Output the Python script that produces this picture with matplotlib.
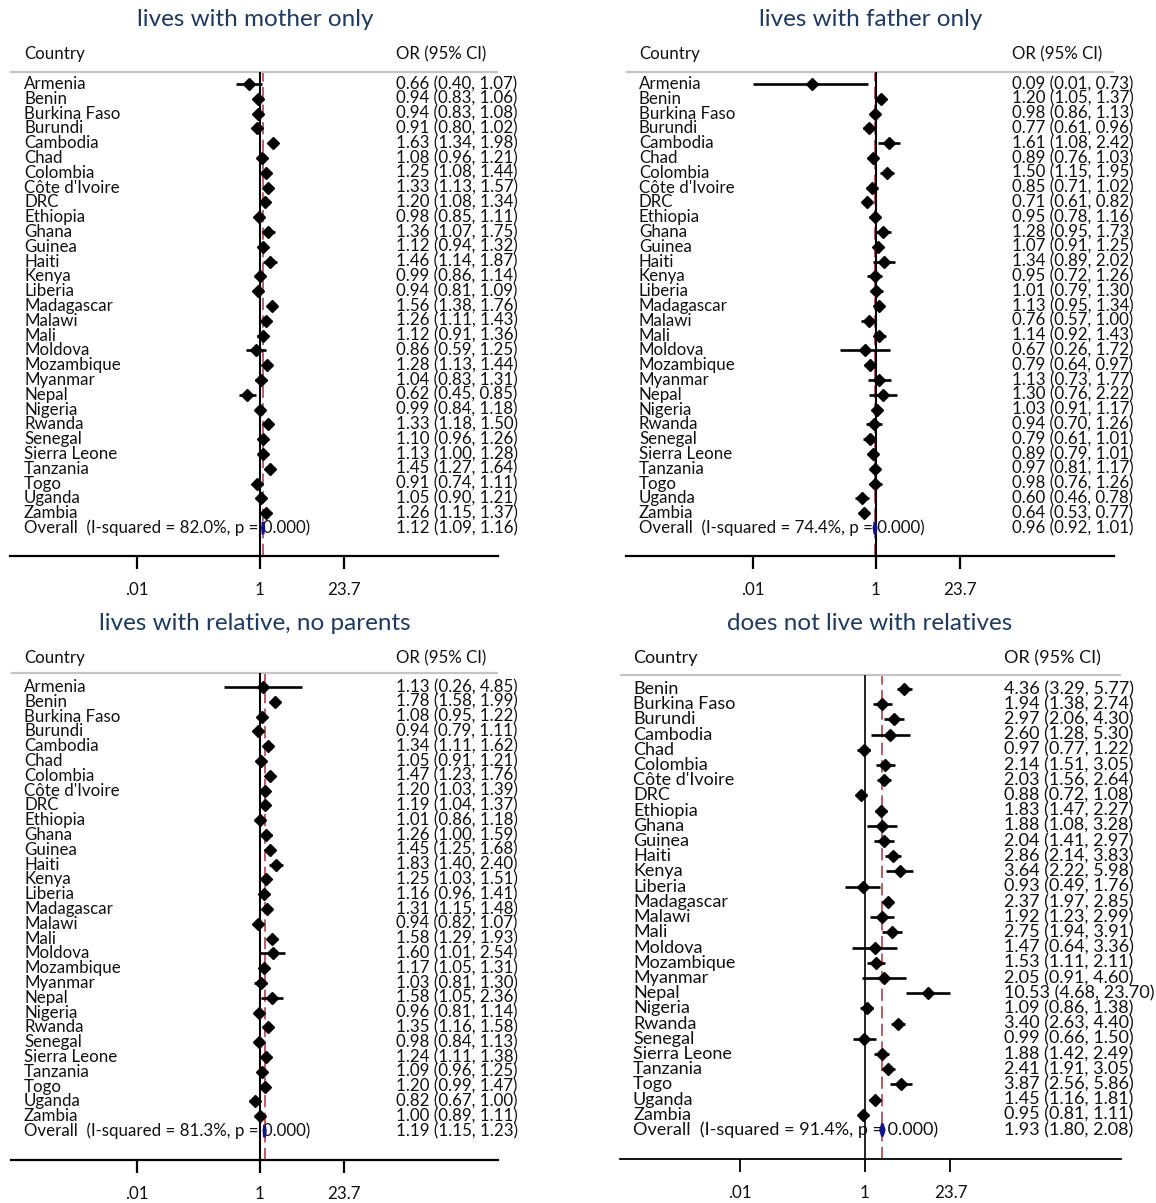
import matplotlib
matplotlib.use("Agg")
import matplotlib.pyplot as plt
from matplotlib.transforms import blended_transform_factory
import numpy as np

plt.rcParams['font.family'] = ['Lato', 'DejaVu Sans']

# ---- data -------------------------------------------------------------
countries_30 = ["Armenia", "Benin", "Burkina Faso", "Burundi", "Cambodia", "Chad",
                "Colombia", "Côte d'Ivoire", "DRC", "Ethiopia", "Ghana", "Guinea",
                "Haiti", "Kenya", "Liberia", "Madagascar", "Malawi", "Mali",
                "Moldova", "Mozambique", "Myanmar", "Nepal", "Nigeria", "Rwanda",
                "Senegal", "Sierra Leone", "Tanzania", "Togo", "Uganda", "Zambia"]
countries_29 = countries_30[1:]

mother_or = [0.66, 0.94, 0.94, 0.91, 1.63, 1.08, 1.25, 1.33, 1.20, 0.98, 1.36, 1.12, 1.46, 0.99, 0.94,
             1.56, 1.26, 1.12, 0.86, 1.28, 1.04, 0.62, 0.99, 1.33, 1.10, 1.13, 1.45, 0.91, 1.05, 1.26]
mother_lo = [0.40, 0.83, 0.83, 0.80, 1.34, 0.96, 1.08, 1.13, 1.08, 0.85, 1.07, 0.94, 1.14, 0.86, 0.81,
             1.38, 1.11, 0.91, 0.59, 1.13, 0.83, 0.45, 0.84, 1.18, 0.96, 1.00, 1.27, 0.74, 0.90, 1.15]
mother_hi = [1.07, 1.06, 1.08, 1.02, 1.98, 1.21, 1.44, 1.57, 1.34, 1.11, 1.75, 1.32, 1.87, 1.14, 1.09,
             1.76, 1.43, 1.36, 1.25, 1.44, 1.31, 0.85, 1.18, 1.50, 1.26, 1.28, 1.64, 1.11, 1.21, 1.37]
mother_overall = (1.12, 1.09, 1.16)
mother_i2 = 82.0

father_or = [0.09, 1.20, 0.98, 0.77, 1.61, 0.89, 1.50, 0.85, 0.71, 0.95, 1.28, 1.07, 1.34, 0.95, 1.01,
             1.13, 0.76, 1.14, 0.67, 0.79, 1.13, 1.30, 1.03, 0.94, 0.79, 0.89, 0.97, 0.98, 0.60, 0.64]
father_lo = [0.01, 1.05, 0.86, 0.61, 1.08, 0.76, 1.15, 0.71, 0.61, 0.78, 0.95, 0.91, 0.89, 0.72, 0.79,
             0.95, 0.57, 0.92, 0.26, 0.64, 0.73, 0.76, 0.91, 0.70, 0.61, 0.79, 0.81, 0.76, 0.46, 0.53]
father_hi = [0.73, 1.37, 1.13, 0.96, 2.42, 1.03, 1.95, 1.02, 0.82, 1.16, 1.73, 1.25, 2.02, 1.26, 1.30,
             1.34, 1.00, 1.43, 1.72, 0.97, 1.77, 2.22, 1.17, 1.26, 1.01, 1.01, 1.17, 1.26, 0.78, 0.77]
father_overall = (0.96, 0.92, 1.01)
father_i2 = 74.4

relative_or = [1.13, 1.78, 1.08, 0.94, 1.34, 1.05, 1.47, 1.20, 1.19, 1.01, 1.26, 1.45, 1.83, 1.25, 1.16,
               1.31, 0.94, 1.58, 1.60, 1.17, 1.03, 1.58, 0.96, 1.35, 0.98, 1.24, 1.09, 1.20, 0.82, 1.00]
relative_lo = [0.26, 1.58, 0.95, 0.79, 1.11, 0.91, 1.23, 1.03, 1.04, 0.86, 1.00, 1.25, 1.40, 1.03, 0.96,
               1.15, 0.82, 1.29, 1.01, 1.05, 0.81, 1.05, 0.81, 1.16, 0.84, 1.11, 0.96, 0.99, 0.67, 0.89]
relative_hi = [4.85, 1.99, 1.22, 1.11, 1.62, 1.21, 1.76, 1.39, 1.37, 1.18, 1.59, 1.68, 2.40, 1.51, 1.41,
               1.48, 1.07, 1.93, 2.54, 1.31, 1.30, 2.36, 1.14, 1.58, 1.13, 1.38, 1.25, 1.47, 1.00, 1.11]
relative_overall = (1.19, 1.15, 1.23)
relative_i2 = 81.3

norel_or = [4.36, 1.94, 2.97, 2.60, 0.97, 2.14, 2.03, 0.88, 1.83, 1.88, 2.04, 2.86, 3.64, 0.93, 2.37,
            1.92, 2.75, 1.47, 1.53, 2.05, 10.53, 1.09, 3.40, 0.99, 1.88, 2.41, 3.87, 1.45, 0.95]
norel_lo = [3.29, 1.38, 2.06, 1.28, 0.77, 1.51, 1.56, 0.72, 1.47, 1.08, 1.41, 2.14, 2.22, 0.49, 1.97,
            1.23, 1.94, 0.64, 1.11, 0.91, 4.68, 0.86, 2.63, 0.66, 1.42, 1.91, 2.56, 1.16, 0.81]
norel_hi = [5.77, 2.74, 4.30, 5.30, 1.22, 3.05, 2.64, 1.08, 2.27, 3.28, 2.97, 3.83, 5.98, 1.76, 2.85,
            2.99, 3.91, 3.36, 2.11, 4.60, 23.70, 1.38, 4.40, 1.50, 2.49, 3.05, 5.86, 1.81, 1.11]
norel_overall = (1.93, 1.80, 2.08)
norel_i2 = 91.4

tick_values = [0.01, 1, 23.7]
tick_labels = [".01", "1", "23.7"]

# ---- figure -----------------------------------------------------------
W, H = 1156, 1203
fig = plt.figure(figsize=(W / 100, H / 100), dpi=100)
fig.patch.set_facecolor("white")

TITLE_COLOR = "#1f3a5f"
TEXT_COLOR = "#111111"
NAVY = "#14148a"
RED = "#a8323c"


def fx(px):
    return px / W


def fy(py):
    return 1 - py / H


def forest(title, names, est, lo, hi, overall, i2, g):
    n = len(names)
    s = g["scale"]
    fs = 12.2 * s
    ax = fig.add_axes([fx(g["left"]), fy(g["axis_y"]),
                       (g["right"] - g["left"]) / W, (g["axis_y"] - g["grey_y"]) / H])
    ax.set_xscale("log")
    dec = g["decade"]
    ax.set_xlim(10 ** ((g["left"] - g["one"]) / dec), 10 ** ((g["right"] - g["one"]) / dec))
    # rows are evenly spaced from the first study down to the pooled line
    step = (g["last"] - g["row0"]) / n
    ax.set_ylim((g["axis_y"] - g["row0"]) / step, (g["grey_y"] - g["row0"]) / step)
    ax.set_facecolor("none")

    for sp in ("left", "right", "top"):
        ax.spines[sp].set_visible(False)
    ax.spines["bottom"].set_linewidth(g["lw"])
    ax.set_yticks([])
    ax.set_xticks(tick_values)
    ax.set_xticklabels(tick_labels)
    ax.xaxis.set_minor_locator(matplotlib.ticker.NullLocator())
    ax.tick_params(axis="x", length=9.5, width=g["lw"], pad=9, labelsize=12.2, colors="black")
    for lab in ax.get_xticklabels():
        lab.set_color(TEXT_COLOR)

    # header rule
    ax.plot([0, 1], [1, 1], transform=ax.transAxes, color="#c4c4c4", lw=1.6,
            clip_on=False, solid_capstyle="butt")
    # null line and pooled estimate line
    ax.axvline(1, color="black", lw=g["lw"] - 0.1, zorder=2)
    ax.axvline(overall[0], color=RED, lw=1.1, ls=(0, (8, 3.5)), zorder=1)

    rows = np.arange(n)
    ax.hlines(rows, lo, hi, color="black", lw=1.9, zorder=3)
    ax.plot(est, rows, ls="none", marker="D", ms=6.2, color="black", zorder=4)

    # pooled diamond
    e, l, h = overall
    ax.fill([l, e, h, e], [n, n - 0.42, n, n + 0.42], facecolor=NAVY, edgecolor=NAVY,
            lw=1.8, zorder=5)

    tr = blended_transform_factory(fig.transFigure, ax.transData)
    for i, name in enumerate(names):
        ax.text(fx(g["cx"]), i, name, transform=tr, ha="left", va="center",
                fontsize=fs, color=TEXT_COLOR)
        ax.text(fx(g["ox"]), i, f"{est[i]:.2f} ({lo[i]:.2f}, {hi[i]:.2f})", transform=tr,
                ha="left", va="center", fontsize=fs, color=TEXT_COLOR)
    ax.text(fx(g["cx"]), n, f"Overall  (I-squared = {i2:.1f}%, p = 0.000)", transform=tr,
            ha="left", va="center", fontsize=fs, color=TEXT_COLOR, zorder=4)
    ax.text(fx(g["ox"]), n, f"{e:.2f} ({l:.2f}, {h:.2f})", transform=tr,
            ha="left", va="center", fontsize=fs, color=TEXT_COLOR)

    fig.text(fx(g["cx"]), fy(g["head_y"]), "Country", ha="left", va="center",
             fontsize=fs, color=TEXT_COLOR)
    fig.text(fx(g["ox"]), fy(g["head_y"]), "OR (95% CI)", ha="left", va="center",
             fontsize=fs, color=TEXT_COLOR)
    fig.text(fx(g["title_x"]), fy(g["title_y"]), title, ha="center", va="center",
             fontsize=17.5, color=TITLE_COLOR)


layout_tl = dict(left=10, right=498, one=260, decade=61.35, axis_y=556, grey_y=72,
                 row0=84, last=528, cx=24, ox=396, head_y=54, title_x=255, title_y=19,
                 scale=1.0, lw=1.6)
layout_tr = dict(left=626, right=1114, one=876, decade=61.35, axis_y=556, grey_y=72,
                 row0=84, last=528, cx=639, ox=1012, head_y=54, title_x=871, title_y=19,
                 scale=1.0, lw=1.6)
layout_bl = dict(left=11, right=498, one=260, decade=61.35, axis_y=1160, grey_y=673,
                 row0=687, last=1131, cx=24, ox=396, head_y=658, title_x=255, title_y=623,
                 scale=1.0, lw=1.6)
layout_br = dict(left=620, right=1121, one=864.5, decade=62.5, axis_y=1159, grey_y=675,
                 row0=689, last=1130, cx=633, ox=1004, head_y=658, title_x=870, title_y=623,
                 scale=1.06, lw=1.3)

forest("lives with mother only", countries_30, mother_or, mother_lo, mother_hi,
       mother_overall, mother_i2, layout_tl)
forest("lives with father only", countries_30, father_or, father_lo, father_hi,
       father_overall, father_i2, layout_tr)
forest("lives with relative, no parents", countries_30, relative_or, relative_lo, relative_hi,
       relative_overall, relative_i2, layout_bl)
forest("does not live with relatives", countries_29, norel_or, norel_lo, norel_hi,
       norel_overall, norel_i2, layout_br)

fig.savefig("out.png", dpi=100, facecolor="white")
